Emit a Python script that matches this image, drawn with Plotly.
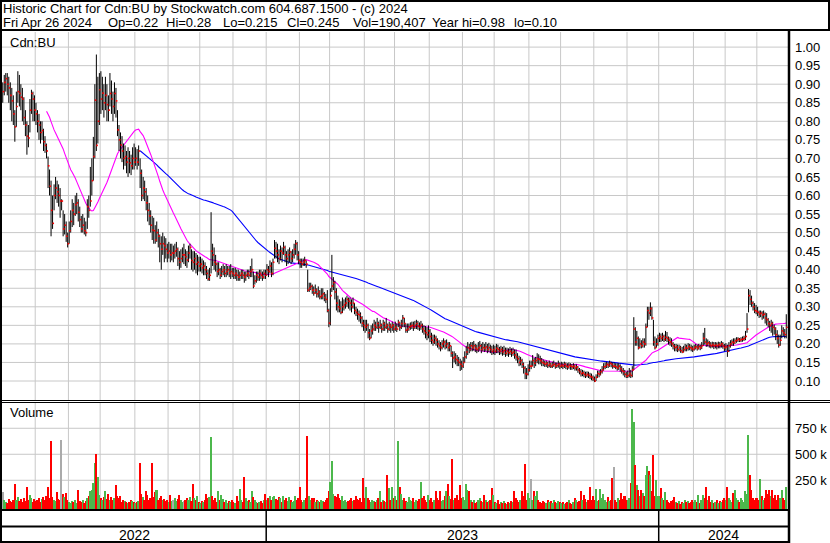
import numpy as np
import pandas as pd
import plotly.graph_objects as go

# ---------------- data (prices in thousandths of a dollar, volume in thousands) ----------------
hi = [
    905,925,930,930,920,905,890,870,830,880,935,925,900,890,865,830,800,790,860,885,880,870,  # May 22
    850,830,820,800,800,780,760,740,705,670,640,600,630,650,640,630,620,590,560,550,530,500,  # Jun 22
    530,560,590,580,600,607,590,570,545,550,540,530,590,600,677,700,758,900,980,920,930,  # Jul 22
    935,920,900,920,900,870,930,910,880,905,890,830,790,770,760,740,735,720,730,720,710,730,740,  # Aug 22
    730,725,735,700,670,650,640,620,600,580,560,545,540,520,530,510,495,490,500,490,485,470,  # Sep 22
    475,470,470,465,470,475,460,450,455,460,470,455,450,465,470,455,450,450,445,440,435,  # Oct 22
    435,430,425,420,410,400,405,555,470,460,440,420,420,405,410,415,410,415,410,410,415,405,  # Nov 22
    405,405,400,400,395,400,400,395,395,400,400,410,430,395,385,395,395,400,400,395,400,400,  # Dec 22
    415,410,425,420,430,480,475,470,455,465,460,475,465,450,455,460,450,455,470,480,475,450,  # Jan 23
    430,430,430,435,425,400,365,365,360,355,360,350,355,345,350,350,340,335,345,295,  # Feb 23
    350,440,380,370,350,330,320,315,325,320,325,330,325,325,320,325,310,300,295,290,285,275,265,  # Mar 23
    265,265,255,240,250,255,265,260,270,260,265,255,265,260,270,255,260,255,260,255,  # Apr 23
    260,255,265,258,265,278,270,255,255,255,258,260,260,262,265,262,258,262,255,250,248,245,250,  # May 23
    240,230,225,225,222,215,210,205,210,215,210,212,205,205,195,180,180,175,170,165,160,155,  # Jun 23
    165,180,195,205,200,205,205,208,200,198,205,208,200,205,200,205,200,203,198,195,198,  # Jul 23
    195,200,198,192,195,192,195,190,190,188,192,188,190,185,185,175,168,165,160,150,140,135,145,  # Aug 23
    155,155,170,162,165,175,172,168,162,158,155,155,152,155,150,152,155,150,150,155,150,  # Sep 23
    152,150,152,150,148,150,148,146,148,145,145,140,135,132,130,128,125,126,125,122,120,115,  # Oct 23
    112,118,128,128,132,140,148,150,152,150,155,152,150,150,148,148,148,145,140,135,130,125,  # Nov 23
    128,135,130,140,272,245,235,220,215,210,215,215,255,300,300,312,300,265,220,215,225,  # Dec 23
    230,228,230,225,235,232,220,218,215,205,200,200,198,198,195,192,195,200,198,202,200,198,195,  # Jan 24
    198,200,198,200,198,205,230,243,215,212,208,205,206,205,205,204,206,205,208,205,200,  # Feb 24
    202,198,205,210,212,215,215,218,218,216,218,220,222,235,283,348,345,330,315,310,305,  # Mar 24
    300,290,290,288,290,285,283,270,262,265,260,252,245,237,225,225,250,245,240,280,  # Apr 24
]
lo = [
    850,870,880,870,850,830,800,790,745,785,850,840,830,800,790,760,710,730,770,820,800,800,
    790,770,750,740,750,720,715,700,620,600,490,510,560,590,580,570,540,560,490,495,475,460,
    470,500,515,520,545,550,530,515,500,500,495,490,510,540,570,600,640,700,720,740,790,
    820,830,810,830,800,800,840,820,800,820,810,760,720,700,690,670,680,660,650,660,655,670,670,
    680,670,680,620,585,590,585,560,530,520,500,480,470,470,475,460,420,400,440,420,430,420,
    430,420,425,420,430,435,410,400,405,420,415,410,405,420,430,400,395,400,390,385,395,
    395,390,385,385,375,370,370,390,410,400,395,380,385,375,380,385,380,380,385,380,375,380,
    375,375,370,370,370,375,375,365,370,380,375,380,380,350,360,365,370,370,375,370,375,375,
    385,380,390,380,385,430,430,420,415,425,420,440,420,410,415,420,415,420,430,440,425,415,
    405,405,410,410,405,340,340,345,335,330,335,325,325,320,320,320,315,310,285,245,
    250,340,345,320,290,285,285,280,283,290,295,300,295,290,285,295,280,275,265,260,255,245,235,
    230,235,215,210,215,225,235,235,240,230,240,230,235,235,240,230,235,230,235,230,
    235,232,245,235,240,245,245,230,230,235,238,240,235,240,240,238,235,238,230,225,215,210,215,
    205,200,195,200,195,190,185,180,185,190,185,188,180,180,165,135,150,145,140,140,127,130,
    135,150,160,170,175,180,180,182,178,175,178,182,175,180,178,180,175,178,175,170,172,
    170,175,175,170,172,168,170,165,168,165,170,165,168,160,155,148,140,142,135,120,105,105,115,
    125,132,140,135,140,148,145,145,140,140,138,138,135,137,135,135,138,133,135,136,132,
    135,132,135,132,130,133,130,130,132,128,128,122,118,112,113,110,108,110,108,105,102,100,
    97,100,108,110,115,120,128,132,135,135,138,137,133,135,132,128,130,125,120,115,110,108,
    108,110,108,110,130,195,195,185,188,188,190,190,195,245,265,275,265,195,185,190,195,
    205,205,208,205,208,205,198,195,192,185,180,180,178,180,176,175,177,180,180,182,183,180,178,
    182,185,182,185,183,186,195,198,192,193,190,188,190,186,188,185,188,188,190,187,180,
    182,165,178,190,195,195,200,203,205,205,205,206,208,210,230,285,305,300,290,283,280,
    275,270,272,265,268,255,250,245,235,230,222,225,210,200,190,195,215,220,215,215,
]
cl = [
    880,905,915,900,890,870,855,820,785,840,880,875,865,860,810,790,760,755,830,875,860,830,
    820,800,790,770,775,745,735,720,680,625,560,525,600,620,610,600,585,585,510,520,490,470,
    505,530,560,550,575,580,555,535,510,520,505,500,570,560,585,640,705,857,735,800,885,
    860,876,850,870,845,830,875,860,840,875,855,777,750,736,720,700,705,690,700,688,680,700,690,
    700,690,720,660,600,620,610,580,560,545,520,507,505,480,500,490,470,455,470,465,455,445,
    450,440,445,445,450,455,430,420,430,440,440,435,426,445,460,425,420,430,415,420,410,
    415,405,410,400,390,375,385,450,440,420,415,395,400,385,395,400,390,395,400,390,395,390,
    385,390,385,380,385,390,385,380,385,390,385,395,400,356,370,385,380,390,385,380,390,385,
    400,395,410,390,420,458,450,440,430,450,445,460,440,430,440,448,430,440,455,470,440,425,
    420,415,420,425,415,345,350,355,345,337,345,335,340,327,330,335,325,320,290,256,
    330,356,365,340,310,300,295,285,300,305,310,320,315,310,300,310,290,285,280,278,270,256,250,
    245,250,230,216,235,240,250,245,255,245,250,240,255,245,250,240,250,245,250,240,
    245,240,258,245,255,270,255,237,240,245,248,250,245,250,255,248,245,250,240,235,230,225,235,
    220,210,205,215,210,200,195,190,200,205,195,200,190,195,175,162,165,158,155,150,145,140,
    150,165,178,190,185,195,190,195,188,185,190,195,185,190,188,192,185,190,185,180,185,
    180,188,185,180,185,178,182,175,180,176,180,175,178,170,165,160,150,155,145,135,120,118,130,
    140,140,155,148,155,160,158,155,150,148,145,148,142,145,140,143,145,140,142,145,140,
    142,140,145,140,138,142,140,138,140,135,138,130,125,120,122,118,115,118,115,112,110,105,
    100,110,120,118,125,130,138,140,145,142,148,145,140,140,138,135,140,133,128,125,118,113,
    115,120,115,130,240,205,215,190,200,195,205,200,245,290,283,295,270,205,190,200,215,
    220,215,220,212,218,215,210,205,200,195,190,192,185,190,182,178,185,190,188,193,190,188,185,
    190,192,188,193,190,195,215,205,200,203,198,195,198,195,197,195,198,196,200,195,190,
    192,180,195,200,205,203,208,210,213,210,212,213,215,220,240,330,320,310,300,290,288,
    285,280,283,278,280,270,265,255,250,255,245,240,225,215,197,210,235,230,225,245,
]
vol_k = [
    140,60,40,30,70,50,40,60,214,60,90,50,70,40,80,50,190,60,110,80,40,70,
    50,60,80,40,70,90,60,100,185,80,628,90,60,50,140,70,60,637,120,90,125,60,
    40,30,50,40,60,30,160,50,40,60,30,50,80,100,150,160,220,419,503,282,110,
    80,60,90,150,70,120,60,90,60,80,200,100,80,100,40,60,50,40,30,40,60,50,40,
    30,40,50,419,120,90,60,150,110,60,80,419,90,140,160,60,80,100,60,70,50,60,
    40,110,50,60,80,50,70,110,60,40,50,60,80,60,90,50,214,80,60,100,40,
    30,50,40,60,120,80,90,670,100,60,80,40,150,60,110,70,40,60,30,50,40,60,
    40,30,100,50,170,60,40,285,80,50,60,40,150,90,60,40,30,40,50,30,60,120,
    60,80,100,60,90,100,70,60,90,80,40,100,60,80,50,90,60,40,50,100,60,80,
    190,60,40,60,80,676,100,60,80,80,40,60,50,40,60,50,40,60,80,150,
    237,436,120,100,90,120,80,60,100,50,60,40,50,60,80,50,60,100,70,60,80,40,272,
    80,190,80,60,40,60,50,40,60,80,150,40,60,50,40,300,180,60,190,80,
    100,60,630,190,120,60,80,50,40,90,60,50,80,40,60,50,70,233,80,100,60,40,110,
    60,80,40,60,150,80,60,150,50,60,100,150,215,100,70,455,60,80,110,60,200,80,
    90,60,215,160,150,60,40,60,30,40,60,80,50,40,110,60,40,50,60,175,110,
    40,30,60,20,40,30,50,30,20,40,30,50,40,150,80,60,40,60,150,100,407,60,130,
    80,262,60,150,100,150,60,40,30,50,40,30,60,40,50,30,60,40,30,50,40,
    30,40,20,30,40,60,30,20,40,80,60,40,50,150,60,110,70,40,60,190,60,100,
    60,165,50,60,165,80,120,60,40,90,50,60,270,378,60,40,80,60,130,70,100,60,
    60,80,220,936,811,396,200,160,100,160,130,100,300,390,340,300,150,493,100,250,100,
    100,180,80,60,140,60,40,30,50,60,90,40,30,50,20,40,30,60,40,50,30,40,60,
    40,60,40,110,30,60,110,80,190,60,100,40,60,30,40,60,30,50,40,60,80,
    60,190,80,60,40,125,160,80,60,40,80,60,40,150,120,685,300,160,80,60,80,
    80,60,262,100,60,80,160,120,160,100,160,80,110,60,110,80,160,80,60,190,
]
last_date = "2024-04-26"
price_ticks = ["0.10","0.15","0.20","0.25","0.30","0.35","0.40","0.45","0.50","0.55",
               "0.60","0.65","0.70","0.75","0.80","0.85","0.90","0.95","1.00"]
vol_ticks = [250000, 500000, 750000]
vol_tick_labels = ["250 k", "500 k", "750 k"]
ma_fast, ma_slow = 30, 92
title1 = "Historic Chart for Cdn:BU by Stockwatch.com 604.687.1500 - (c) 2024"
title2_items = ["Fri Apr 26 2024", "Op=0.22", "Hi=0.28", "Lo=0.215", "Cl=0.245",
                "Vol=190,407", "Year hi=0.98", "lo=0.10"]
title2_x = [2, 107, 165, 222, 286, 352, 431, 513]   # left edge of each item, px

# ---------------- derived ----------------
W, H = 830, 543
def px(x): return x / W
def py(y): return 1 - y / H

n = min(len(hi), len(lo), len(cl), len(vol_k))
idx = np.arange(n)
hi_p = np.array(hi[:n]) / 1000
lo_p = np.array(lo[:n]) / 1000
cl_p = np.array(cl[:n]) / 1000
vol = np.array(vol_k[:n]) * 1000
dates = pd.bdate_range(end=last_date, periods=n)
month_starts = [i for i in range(1, n) if dates[i].month != dates[i - 1].month]
year_starts = [i for i in range(1, n) if dates[i].year != dates[i - 1].year]
grid_x = [i - 0.5 for i in month_starts]
xr = [-0.5, n + 0.8]

RED, GREEN, GRAY = "#ff0000", "#4cb84c", "#aaaaaa"
vcol = []
for i in range(n):
    if i == 0 or cl[i] == cl[i - 1]:
        vcol.append(GRAY)
    elif cl[i] > cl[i - 1]:
        vcol.append(GREEN)
    else:
        vcol.append(RED)

bx, by = [], []
for i in range(n):
    bx += [i, i, None]
    by += [lo_p[i], hi_p[i], None]

s = pd.Series(cl_p)
ma1 = s.rolling(ma_fast).mean()
ma2 = s.rolling(ma_slow).mean()

VMIN, VMAX = -31000, 993000
FONT = "Liberation Sans, Arial, sans-serif"

fig = go.Figure()
fig.add_trace(go.Scatter(x=idx, y=ma2, mode="lines", line=dict(color="#0000ff", width=1.1),
                         hoverinfo="skip", xaxis="x", yaxis="y"))
fig.add_trace(go.Scatter(x=idx, y=ma1, mode="lines", line=dict(color="#ff00ff", width=1.1),
                         hoverinfo="skip", xaxis="x", yaxis="y"))
fig.add_trace(go.Scatter(x=bx, y=by, mode="lines", line=dict(color="black", width=1.0),
                         hoverinfo="skip", xaxis="x", yaxis="y"))
fig.add_trace(go.Scatter(x=idx + 0.45, y=cl_p, mode="markers",
                         marker=dict(symbol="square", size=1.6, color=RED, line=dict(width=0)),
                         hoverinfo="skip", xaxis="x", yaxis="y"))
fig.add_trace(go.Bar(x=idx, y=vol - VMIN, base=VMIN, width=1.0,
                     marker=dict(color=vcol, line=dict(width=0)),
                     hoverinfo="skip", xaxis="x2", yaxis="y2"))

axis_common = dict(showline=False, zeroline=False, ticks="", showgrid=False)
fig.update_layout(
    template="none",
    width=W, height=H, margin=dict(l=0, r=0, t=0, b=0, pad=0), autosize=False,
    paper_bgcolor="white", plot_bgcolor="rgba(0,0,0,0)", showlegend=False,
    bargap=0, font=dict(family=FONT, size=12, color="black"),
    xaxis=dict(domain=[px(2), px(789)], range=xr, tickvals=grid_x, showticklabels=False,
               anchor="y", **axis_common),
    yaxis=dict(domain=[py(400), py(32)], range=[0.0488, 1.0407],
               tickvals=[float(t) for t in price_ticks], ticktext=price_ticks,
               side="right", anchor="x", ticklabelstandoff=5,
               tickfont=dict(family=FONT, size=13, color="black"), **axis_common),
    xaxis2=dict(domain=[px(2), px(789)], range=xr, tickvals=grid_x, showticklabels=False,
                anchor="y2", matches="x", **axis_common),
    yaxis2=dict(domain=[py(509.5), py(403)], range=[VMIN, VMAX],
                tickvals=vol_ticks, ticktext=vol_tick_labels, side="right", anchor="x2",
                ticklabelstandoff=5, tickfont=dict(family=FONT, size=13, color="black"),
                **axis_common),
)

GRID = "#c8c8c8"
shapes = []
# grid lines (drawn beneath the data)
for t in price_ticks:
    shapes.append(dict(type="line", xref="paper", yref="y", x0=px(2), x1=px(789),
                       y0=float(t), y1=float(t), layer="below", line=dict(color=GRID, width=1)))
for t in vol_ticks:
    shapes.append(dict(type="line", xref="paper", yref="y2", x0=px(2), x1=px(789),
                       y0=t, y1=t, layer="below", line=dict(color=GRID, width=1)))
for gx in grid_x:
    shapes.append(dict(type="line", xref="x", yref="paper", x0=gx, x1=gx,
                       y0=py(400), y1=py(32), layer="below", line=dict(color=GRID, width=1)))
    shapes.append(dict(type="line", xref="x2", yref="paper", x0=gx, x1=gx,
                       y0=py(509.5), y1=py(403), layer="below", line=dict(color=GRID, width=1)))

def hline(y, x0, x1, w):
    shapes.append(dict(type="line", xref="paper", yref="paper", x0=px(x0), x1=px(x1),
                       y0=py(y), y1=py(y), line=dict(color="black", width=w)))
def vline(x, y0, y1, w):
    shapes.append(dict(type="line", xref="paper", yref="paper", x0=px(x), x1=px(x),
                       y0=py(y0), y1=py(y1), line=dict(color="black", width=w)))

hline(1, 0, 830, 2)
hline(30, 0, 830, 2)
vline(829, 0, 30, 2)
vline(1, 0, 543, 2)
vline(789, 30, 543, 2.5)
hline(400.5, 0, 830, 1)
hline(402.5, 0, 830, 1)
hline(510, 0, 789, 2)
hline(526.5, 0, 789, 2)
hline(542, 0, 789, 2)
for ys in year_starts:
    shapes.append(dict(type="line", xref="x", yref="paper", x0=ys - 0.5, x1=ys - 0.5,
                       y0=py(510), y1=py(542), line=dict(color="black", width=1.5)))
fig.update_layout(shapes=shapes)

ann = []
def text(x, y, t, xanchor="left", xref="paper", size=13):
    ann.append(dict(x=x, y=py(y), xref=xref, yref="paper", text=t, showarrow=False,
                    xanchor=xanchor, yanchor="middle", borderpad=0,
                    font=dict(family=FONT, size=size, color="black")))

text(px(2), 9, title1)
for tx, tt in zip(title2_x, title2_items):
    text(px(tx), 22, tt)
text(px(9), 42, "Cdn:BU")
text(px(9), 413, "Volume")
bounds = [-0.5] + [ys - 0.5 for ys in year_starts] + [xr[1]]
for k in range(len(bounds) - 1):
    yr = str(dates[int(np.ceil(bounds[k] + 0.5))].year)
    text((bounds[k] + bounds[k + 1]) / 2, 534.5, yr, xanchor="center", xref="x", size=14)
fig.update_layout(annotations=ann)

fig.write_html("out.html", config={"displayModeBar": False},
               post_script="document.body.style.margin='0px';document.body.style.overflow='hidden';")
